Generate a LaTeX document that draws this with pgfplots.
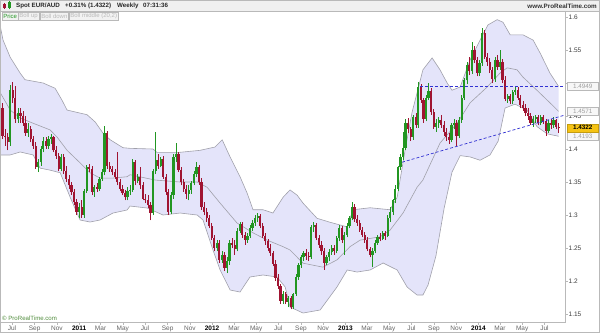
\documentclass[border=0pt]{standalone}
\usepackage{pgfplots}
\pgfplotsset{compat=1.18}
\usepackage{pgfplotstable}
\usepgfplotslibrary{fillbetween}
\usepackage{fontspec}
\setmainfont{Liberation Sans}
\definecolor{upc}{RGB}{34,150,34}
\definecolor{dnc}{RGB}{160,20,50}
\definecolor{bandfill}{RGB}{228,228,250}
\definecolor{bandline}{RGB}{160,160,170}
\definecolor{dashc}{RGB}{50,50,210}
\definecolor{framec}{RGB}{185,185,185}
\definecolor{labc}{RGB}{60,60,60}
\definecolor{prtgreen}{RGB}{80,140,60}
\definecolor{hilite}{RGB}{245,195,20}

\pgfplotstableread{
x o h l c
-30 1.462 1.470 1.415 1.420
-29 1.420 1.430 1.405 1.418
-28 1.418 1.425 1.398 1.410
-27 1.410 1.497 1.405 1.490
-26 1.490 1.501 1.470 1.478
-25 1.478 1.495 1.440 1.445
-24 1.445 1.462 1.440 1.455
-23 1.455 1.462 1.440 1.450
-22 1.450 1.458 1.435 1.440
-21 1.440 1.450 1.420 1.425
-20 1.425 1.440 1.418 1.430
-19 1.430 1.435 1.410 1.415
-18 1.415 1.420 1.400 1.405
-17 1.405 1.410 1.370 1.372
-16 1.372 1.385 1.365 1.380
-15 1.380 1.405 1.375 1.400
-14 1.400 1.418 1.395 1.412
-13 1.412 1.418 1.400 1.405
-12 1.405 1.420 1.400 1.415
-11 1.415 1.422 1.408 1.418
-10 1.418 1.420 1.395 1.398
-9 1.398 1.405 1.385 1.390
-8 1.390 1.394 1.366 1.370
-7 1.370 1.392 1.366 1.388
-6 1.388 1.392 1.362 1.366
-5 1.366 1.375 1.350 1.355
-4 1.355 1.360 1.340 1.345
-3 1.345 1.350 1.330 1.335
-2 1.335 1.340 1.315 1.320
-1 1.320 1.325 1.300 1.305
0 1.305 1.318 1.295 1.312
1 1.312 1.322 1.296 1.300
2 1.300 1.340 1.296 1.336
3 1.336 1.376 1.334 1.372
4 1.372 1.378 1.365 1.370
5 1.370 1.375 1.330 1.335
6 1.335 1.345 1.328 1.342
7 1.342 1.348 1.335 1.340
8 1.340 1.358 1.336 1.355
9 1.355 1.370 1.352 1.365
10 1.365 1.435 1.360 1.424
11 1.424 1.428 1.370 1.375
12 1.375 1.380 1.365 1.370
13 1.370 1.375 1.360 1.365
14 1.365 1.370 1.355 1.358
15 1.358 1.395 1.345 1.350
16 1.350 1.355 1.336 1.340
17 1.340 1.345 1.330 1.333
18 1.333 1.338 1.322 1.327
19 1.327 1.342 1.322 1.336
20 1.336 1.345 1.330 1.338
21 1.338 1.385 1.335 1.380
22 1.380 1.384 1.345 1.352
23 1.352 1.362 1.348 1.358
24 1.358 1.372 1.340 1.345
25 1.345 1.350 1.322 1.325
26 1.325 1.332 1.318 1.322
27 1.322 1.330 1.310 1.315
28 1.315 1.320 1.292 1.303
29 1.303 1.370 1.300 1.366
30 1.366 1.426 1.362 1.383
31 1.383 1.392 1.370 1.375
32 1.375 1.388 1.372 1.385
33 1.385 1.390 1.355 1.358
34 1.358 1.362 1.330 1.335
35 1.335 1.340 1.300 1.305
36 1.305 1.335 1.302 1.330
37 1.330 1.392 1.325 1.388
38 1.388 1.409 1.380 1.392
39 1.392 1.395 1.365 1.368
40 1.368 1.372 1.345 1.350
41 1.350 1.355 1.335 1.340
42 1.340 1.345 1.325 1.332
43 1.332 1.345 1.322 1.338
44 1.338 1.352 1.332 1.348
45 1.348 1.366 1.345 1.362
46 1.362 1.380 1.358 1.372
47 1.372 1.376 1.346 1.350
48 1.350 1.356 1.308 1.312
49 1.312 1.320 1.300 1.305
50 1.305 1.310 1.290 1.295
51 1.295 1.300 1.280 1.283
52 1.283 1.288 1.262 1.265
53 1.265 1.270 1.245 1.250
54 1.250 1.262 1.245 1.258
55 1.258 1.262 1.228 1.232
56 1.232 1.245 1.228 1.240
57 1.240 1.244 1.215 1.220
58 1.220 1.236 1.212 1.230
59 1.230 1.262 1.225 1.258
60 1.258 1.265 1.250 1.255
61 1.255 1.262 1.240 1.248
62 1.248 1.280 1.245 1.276
63 1.276 1.290 1.272 1.286
64 1.286 1.290 1.265 1.270
65 1.270 1.275 1.255 1.262
66 1.262 1.272 1.258 1.268
67 1.268 1.285 1.265 1.280
68 1.280 1.292 1.276 1.288
69 1.288 1.300 1.284 1.296
70 1.296 1.303 1.290 1.299
71 1.299 1.302 1.280 1.284
72 1.284 1.288 1.265 1.268
73 1.268 1.272 1.255 1.260
74 1.260 1.264 1.245 1.250
75 1.250 1.256 1.238 1.242
76 1.242 1.246 1.222 1.226
77 1.226 1.232 1.200 1.205
78 1.205 1.210 1.188 1.192
79 1.192 1.196 1.165 1.170
80 1.170 1.185 1.165 1.180
81 1.180 1.184 1.165 1.168
82 1.168 1.178 1.160 1.175
83 1.175 1.178 1.157 1.160
84 1.160 1.182 1.157 1.180
85 1.180 1.210 1.178 1.206
86 1.206 1.228 1.202 1.225
87 1.225 1.240 1.220 1.236
88 1.236 1.245 1.230 1.242
89 1.242 1.248 1.232 1.238
90 1.238 1.244 1.230 1.236
91 1.236 1.285 1.234 1.282
92 1.282 1.290 1.275 1.285
93 1.285 1.288 1.262 1.265
94 1.265 1.270 1.250 1.255
95 1.255 1.260 1.240 1.245
96 1.245 1.250 1.217 1.228
97 1.228 1.240 1.225 1.236
98 1.236 1.248 1.230 1.244
99 1.244 1.255 1.240 1.250
100 1.250 1.254 1.240 1.246
101 1.246 1.268 1.242 1.265
102 1.265 1.285 1.260 1.280
103 1.280 1.284 1.258 1.262
104 1.262 1.275 1.240 1.270
105 1.270 1.288 1.266 1.284
106 1.284 1.298 1.280 1.295
107 1.295 1.320 1.292 1.312
108 1.312 1.316 1.290 1.294
109 1.294 1.300 1.284 1.288
110 1.288 1.292 1.275 1.278
111 1.278 1.282 1.266 1.270
112 1.270 1.274 1.258 1.262
113 1.262 1.266 1.245 1.248
114 1.248 1.252 1.236 1.240
115 1.240 1.250 1.221 1.246
116 1.246 1.262 1.242 1.258
117 1.258 1.270 1.255 1.266
118 1.266 1.272 1.260 1.264
119 1.264 1.276 1.262 1.272
120 1.272 1.276 1.262 1.268
121 1.268 1.300 1.266 1.296
122 1.296 1.312 1.290 1.305
123 1.305 1.325 1.300 1.322
124 1.322 1.345 1.318 1.340
125 1.340 1.375 1.336 1.372
126 1.372 1.392 1.368 1.388
127 1.388 1.426 1.384 1.402
128 1.402 1.445 1.398 1.440
129 1.440 1.447 1.425 1.430
130 1.430 1.434 1.412 1.418
131 1.418 1.452 1.414 1.448
132 1.448 1.455 1.432 1.436
133 1.436 1.501 1.432 1.494
134 1.494 1.498 1.470 1.474
135 1.474 1.478 1.440 1.446
136 1.446 1.482 1.442 1.478
137 1.478 1.500 1.474 1.488
138 1.488 1.492 1.452 1.456
139 1.456 1.460 1.430 1.434
140 1.434 1.446 1.426 1.440
141 1.440 1.448 1.432 1.444
142 1.444 1.452 1.432 1.436
143 1.436 1.442 1.420 1.426
144 1.426 1.432 1.412 1.418
145 1.418 1.424 1.408 1.414
146 1.414 1.440 1.410 1.436
147 1.436 1.446 1.430 1.440
148 1.440 1.444 1.404 1.420
149 1.420 1.448 1.416 1.444
150 1.444 1.482 1.440 1.478
151 1.478 1.508 1.474 1.504
152 1.504 1.532 1.498 1.528
153 1.528 1.540 1.512 1.518
154 1.518 1.562 1.514 1.550
155 1.550 1.556 1.530 1.535
156 1.535 1.540 1.510 1.515
157 1.515 1.535 1.510 1.530
158 1.530 1.583 1.526 1.576
159 1.576 1.580 1.536 1.540
160 1.540 1.546 1.526 1.532
161 1.532 1.538 1.515 1.520
162 1.520 1.524 1.500 1.506
163 1.506 1.540 1.502 1.535
164 1.535 1.542 1.520 1.524
165 1.524 1.550 1.520 1.532
166 1.532 1.536 1.500 1.505
167 1.505 1.510 1.472 1.476
168 1.476 1.484 1.470 1.480
169 1.480 1.484 1.468 1.472
170 1.472 1.490 1.468 1.486
171 1.486 1.496 1.482 1.490
172 1.490 1.494 1.474 1.478
173 1.478 1.482 1.462 1.466
174 1.466 1.472 1.458 1.462
175 1.462 1.468 1.450 1.455
176 1.455 1.462 1.444 1.450
177 1.450 1.455 1.436 1.440
178 1.440 1.450 1.434 1.446
179 1.446 1.452 1.440 1.448
180 1.448 1.452 1.436 1.440
181 1.440 1.452 1.436 1.449
182 1.449 1.452 1.438 1.442
183 1.442 1.446 1.420 1.428
184 1.428 1.444 1.424 1.440
185 1.440 1.446 1.430 1.436
186 1.436 1.448 1.432 1.444
187 1.444 1.446 1.430 1.434
188 1.434 1.440 1.425 1.4322
}\candles

\begin{document}
\begin{tikzpicture}
% title bar
\fill[gray!12] (0,322pt) rectangle (600pt,333pt);
\begin{axis}[
  at={(0pt,11pt)}, anchor=south west,
  scale only axis, width=565pt, height=311pt,
  xmin=-31, xmax=190.5, ymin=1.1379, ymax=1.6091,
  axis line style={draw=framec, line width=0.6pt},
  tick align=outside, major tick length=2.5pt,
  tick style={draw=framec, line width=0.5pt},
  ytick pos=right, yticklabel pos=right, xtick pos=bottom,
  ytick={1.15,1.2,1.25,1.3,1.35,1.4,1.45,1.5,1.55,1.6},
  yticklabels={1.15,1.2,1.25,1.3,1.35,1.4,1.45,{},1.55,1.6},
  xtick={-26.29,-17.43,-8.71,0,8.43,17.14,25.86,34.71,43.43,52.14,60.71,69.43,78.14,87,95.71,104.43,112.86,121.57,130.29,139.14,147.86,156.57,165,173.71,182.43},
  xticklabels={Jul,Sep,Nov,\textcolor{black}{\textbf{2011}},Mar,May,Jul,Sep,Nov,\textcolor{black}{\textbf{2012}},Mar,May,Jul,Sep,Nov,\textcolor{black}{\textbf{2013}},Mar,May,Jul,Sep,Nov,\textcolor{black}{\textbf{2014}},Mar,May,Jul},
  yticklabel style={font=\fontsize{6.5}{7}\selectfont, text=labc, anchor=west, inner sep=1pt},
  xticklabel style={font=\fontsize{6.5}{7}\selectfont, text=labc!80, inner sep=1pt, anchor=north},
  /pgf/number format/assume math mode=true,
  candle/.style={draw=none, no markers, forget plot, error bars/.cd, y dir=plus, y explicit, error mark=none, error mark options={draw=none}},
]
% Bollinger bands
\addplot[name path=up, draw=bandline, line width=0.6pt] coordinates {
(-31,1.588) (-29.8,1.565) (-27,1.539) (-23.1,1.515) (-21.2,1.505) (-14.1,1.500) (-9.4,1.492) (-6.7,1.474) (-4.7,1.459) (3.1,1.452) (6.3,1.441) (9.4,1.424) (12.2,1.414) (17.2,1.402) (20,1.401) (29,1.400) (30.5,1.395) (39.6,1.395) (47.4,1.398) (53.3,1.403) (56.1,1.414) (59.2,1.388) (63.1,1.358) (65.9,1.333) (68.2,1.308) (72.1,1.308) (76,1.303) (80,1.327) (82.7,1.338) (85.5,1.330) (87.8,1.318) (93.3,1.295) (98.4,1.289) (105.1,1.282) (107.4,1.308) (114.1,1.311) (121.9,1.308) (124.7,1.327) (127.8,1.398) (130.5,1.455) (132.5,1.485) (134.8,1.520) (138.4,1.538) (141.5,1.520) (144.3,1.500) (146.2,1.489) (149.4,1.494) (153.3,1.535) (157.2,1.565) (160.3,1.588) (163.9,1.596) (166.2,1.592) (169,1.573) (174,1.573) (178,1.565) (180.8,1.545) (184.6,1.515) (188,1.4949)};
\addplot[name path=lo, draw=bandline, line width=0.6pt] coordinates {
(-31,1.391) (-27,1.391) (-23.1,1.3955) (-18,1.391) (-15.3,1.371) (-11.4,1.368) (-7.4,1.364) (-3.5,1.327) (0.4,1.2924) (4.3,1.2894) (8.2,1.2924) (13.3,1.303) (18.8,1.3076) (20,1.3136) (26.7,1.3106) (32.9,1.300) (39.6,1.303) (46.3,1.300) (48.6,1.2924) (52.5,1.247) (55.3,1.2167) (59.2,1.1864) (63.1,1.1833) (67,1.2061) (72.1,1.2091) (77.6,1.2061) (80.8,1.1909) (82.7,1.1606) (87.8,1.1515) (94.5,1.1561) (101.1,1.1909) (105.1,1.2167) (109,1.2136) (114.1,1.2167) (119.2,1.2273) (124.7,1.2167) (128.6,1.1909) (132.5,1.1788) (134.8,1.1788) (136.8,1.1939) (139.9,1.238) (143.1,1.31) (146.2,1.365) (149.4,1.39) (153.3,1.388) (157.2,1.383) (161.1,1.391) (164.3,1.412) (167,1.462) (170.9,1.468) (175.6,1.459) (179.5,1.434) (183.5,1.423) (188,1.4193)};
\addplot[fill=bandfill, draw=none] fill between[of=up and lo];
\addplot[draw=bandline, line width=0.6pt] coordinates {
(-31,1.486) (-27,1.459) (-23.1,1.447) (-18,1.439) (-11.4,1.429) (-8.6,1.418) (-4.7,1.398) (0.4,1.379) (4.3,1.364) (8.2,1.356) (13.3,1.356) (18.8,1.358) (20,1.361) (29.8,1.353) (39.6,1.350) (46.3,1.350) (50.2,1.342) (55.3,1.318) (61.9,1.288) (68.2,1.273) (73.7,1.262) (80,1.252) (82.7,1.247) (87.8,1.227) (95.6,1.221) (101.1,1.232) (106.2,1.252) (110.2,1.262) (118,1.267) (121.9,1.277) (127,1.303) (132.5,1.342) (134.8,1.353) (141.5,1.409) (148.2,1.439) (153.3,1.470) (160,1.494) (165,1.515) (167.8,1.523) (171.7,1.520) (174,1.509) (179.5,1.489) (184.6,1.470) (188,1.4571)};
% candles: wicks (zero length for the other colour)
\addplot[candle, error bar style={line width=0.55pt, draw=upc}]
  table[x=x, y=l, y error plus expr={(\thisrow{c}>=\thisrow{o})*(\thisrow{h}-\thisrow{l})}] {\candles};
\addplot[candle, error bar style={line width=0.55pt, draw=dnc}]
  table[x=x, y=l, y error plus expr={(\thisrow{c}<\thisrow{o})*(\thisrow{h}-\thisrow{l})}] {\candles};
% candles: bodies
\addplot[candle, error bar style={line width=2.2pt, draw=upc}]
  table[x=x, y=o, y error plus expr={(\thisrow{c}>=\thisrow{o})*(\thisrow{c}-\thisrow{o})}] {\candles};
\addplot[candle, error bar style={line width=2.2pt, draw=dnc}]
  table[x=x, y=c, y error plus expr={(\thisrow{c}<\thisrow{o})*(\thisrow{o}-\thisrow{c})}] {\candles};
% drawn lines
\addplot[dashc, line width=0.7pt, dash pattern=on 3pt off 2pt] coordinates {(133.7,1.4949) (190.5,1.4949)};
\addplot[dashc, line width=0.7pt, dash pattern=on 3pt off 2pt] coordinates {(126.6,1.380) (190.5,1.4515)};
\coordinate (Lup) at (axis cs:190.5,1.4949);
\coordinate (Lmid) at (axis cs:190.5,1.4571);
\coordinate (Lpx) at (axis cs:190.5,1.4322);
\coordinate (Llo) at (axis cs:190.5,1.4193);
\end{axis}
% right value labels
\tikzset{vlab/.style={anchor=west, xshift=2pt, draw=framec, fill=gray!6, text=gray!75, minimum width=31pt, minimum height=8pt, inner sep=0.5pt, font=\fontsize{6.3}{7}\selectfont}}
\node[vlab] at (Lup) {1.4949};
\node[vlab] at (Lmid) {1.4571};
\node[vlab] at (Llo) {1.4193};
\node[vlab, fill=hilite, draw=hilite!80!black, text=black, font=\fontsize{6.3}{7}\selectfont\bfseries] at (Lpx) {1.4322};
% title bar contents
\draw[framec, line width=0.6pt] (0,322pt) -- (600pt,322pt);
\fill[dnc] (2.5pt,325pt) rectangle (5.5pt,329pt);
\draw[dnc, line width=0.4pt] (4pt,324pt) -- (4pt,330pt);
\fill[upc] (8pt,324.5pt) rectangle (11pt,331pt);
\draw[upc, line width=0.4pt] (9.5pt,323.5pt) -- (9.5pt,332pt);
\tikzset{ttl/.style={anchor=west, inner sep=0pt, font=\fontsize{6.2}{7}\selectfont\bfseries, text=black!85}}
\node[ttl] at (16pt,327.5pt) {Spot EUR/AUD};
\node[ttl] at (65pt,327.5pt) {+0.31\% (1.4322)};
\node[ttl] at (117pt,327.5pt) {Weekly};
\node[ttl] at (143pt,327.5pt) {07:31:36};
\node[anchor=east, inner sep=0pt, font=\fontsize{6.3}{7}\selectfont\bfseries, text=black!80] at (597pt,327pt) {www.ProRealTime.com};
% tabs
\tikzset{tab/.style={anchor=north west, draw=framec, fill=gray!10, text=gray!55, inner xsep=1.2pt, inner ysep=0.8pt, minimum height=8pt, font=\fontsize{6}{7}\selectfont}}
\node[tab, text=upc] at (2pt,321pt) {Price};
\node[tab] at (18pt,321pt) {Boll up};
\node[tab] at (40pt,321pt) {Boll down};
\node[tab] at (69pt,321pt) {Boll middle (20,2)};
% copyright
\node[anchor=south west, inner sep=0pt, font=\fontsize{6.1}{7}\selectfont, text=prtgreen] at (2pt,12.5pt) {© ProRealTime.com};
% outer frame
\draw[framec, line width=0.8pt] (0.4pt,0.4pt) rectangle (599.6pt,332.6pt);
\pgfresetboundingbox
\useasboundingbox (0,0) rectangle (600pt,333pt);
\end{tikzpicture}
\end{document}
